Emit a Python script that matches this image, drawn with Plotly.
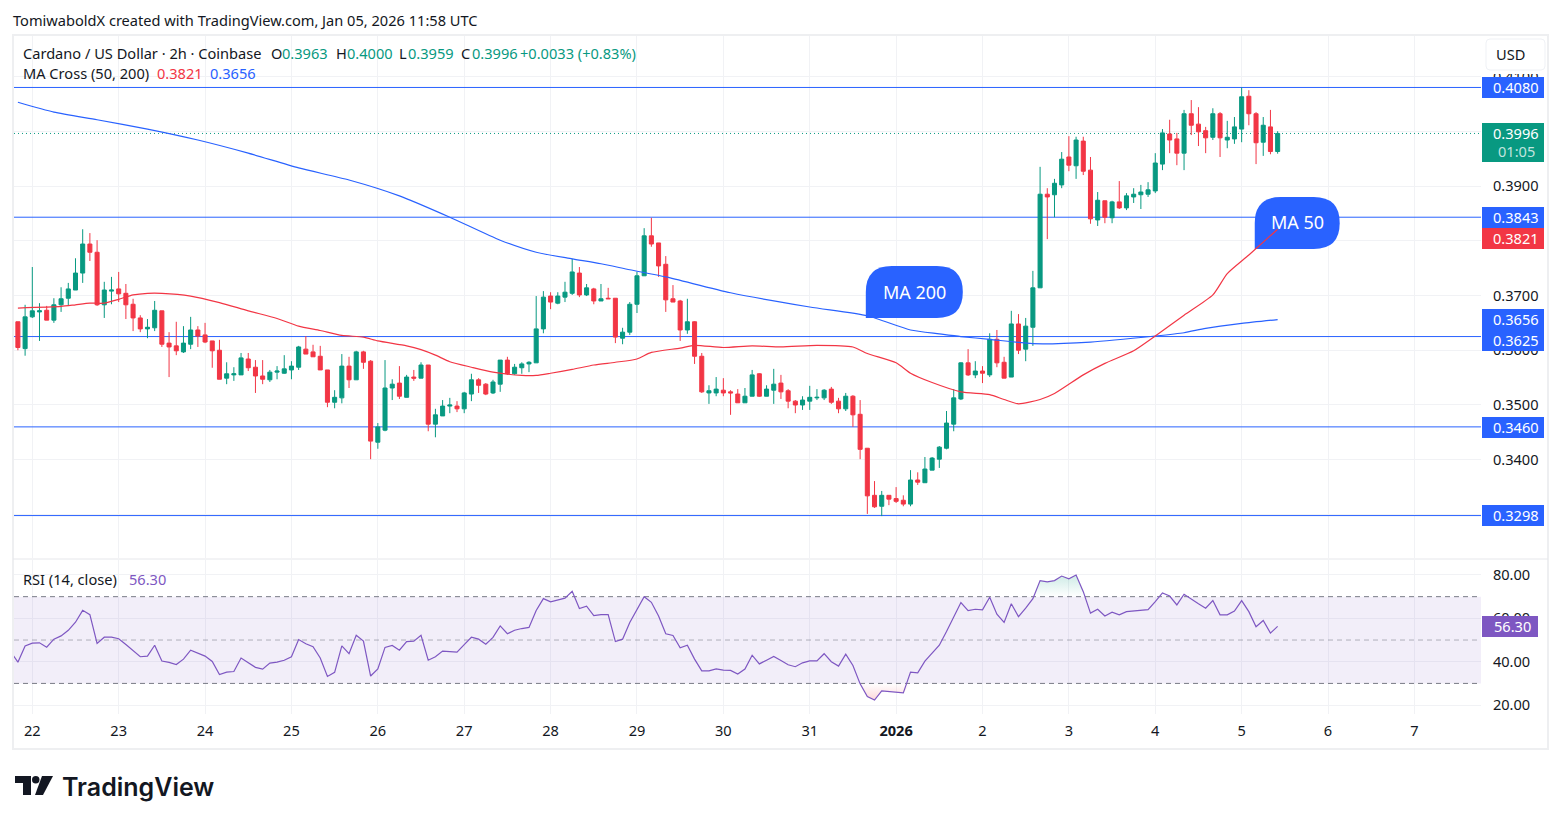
import numpy as np
import pandas as pd
import plotly.graph_objects as go
from plotly.subplots import make_subplots

W, H = 1561, 824
GREEN = '#089981'
RED = '#F23645'
BLUE = '#2962FF'
PURPLE = '#7E57C2'
TEXT = '#131722'
GRID = '#F1F2F5'
FONT = 'Noto Sans'
FS = 14.6
X_START = '2025-12-21 18:55'
X_END = '2026-01-07 18:30'

# 2h candles
opens = [.3652,.3603,.3661,.3670,.3673,.3655,.3683,.3695,.3710,.3741,
         .3794,.3779,.3683,.3708,.3712,.3704,.3684,.3659,.3639,.3641,
         .3672,.3613,.3608,.3597,.3611,.3637,.3628,.3617,.3600,.3549,
         .3555,.3555,.3584,.3569,.3553,.3546,.3560,.3558,.3564,.3569,
         .3602,.3597,.3589,.3564,.3505,.3513,.3571,.3546,.3597,.3580,
         .3432,.3454,.3531,.3540,.3514,.3551,.3549,.3573,.3465,.3480,
         .3498,.3498,.3493,.3520,.3546,.3538,.3522,.3538,.3582,.3557,
         .3568,.3575,.3577,.3639,.3699,.3686,.3697,.3704,.3741,.3701,
         .3712,.3690,.3695,.3695,.3622,.3633,.3684,.3736,.3809,.3796,
         .3757,.3694,.3690,.3637,.3652,.3589,.3522,.3522,.3527,.3524,
         .3520,.3504,.3516,.3557,.3516,.3527,.3540,.3526,.3507,.3500,
         .3507,.3513,.3513,.3529,.3507,.3493,.3516,.3483,.3421,.3335,
         .3315,.3335,.3329,.3326,.3319,.3363,.3358,.3381,.3401,.3421,
         .3465,.3511,.3577,.3555,.3562,.3555,.3620,.3578,.3551,.3648,
         .3602,.3642,.3714,.3885,.3884,.3902,.3953,.3937,.3982,.3929,
         .3838,.3873,.3842,.3871,.3860,.3880,.3884,.3885,.3891,.3940,
         .3995,.3986,.3960,.4032,.4013,.4001,.3989,.4032,.3984,.3986,
         .4004,.4064,.4032,.3980,.4008,.3963]
highs = [.3652,.3683,.3752,.3686,.3681,.3695,.3715,.3723,.3768,.3821,
         .3814,.3801,.3725,.3734,.3743,.3721,.3694,.3664,.3657,.3690,
         .3672,.3633,.3652,.3644,.3661,.3644,.3650,.3617,.3619,.3578,
         .3569,.3595,.3595,.3582,.3582,.3564,.3571,.3591,.3580,.3608,
         .3626,.3610,.3608,.3564,.3527,.3593,.3588,.3599,.3599,.3582,
         .3467,.3582,.3547,.3571,.3555,.3564,.3578,.3573,.3493,.3509,
         .3513,.3507,.3524,.3557,.3549,.3540,.3546,.3582,.3588,.3575,
         .3578,.3580,.3699,.3708,.3706,.3706,.3725,.3767,.3752,.3721,
         .3714,.3721,.3714,.3695,.3641,.3688,.3743,.3823,.3842,.3796,
         .3772,.3719,.3692,.3694,.3653,.3595,.3536,.3551,.3549,.3527,
         .3529,.3531,.3564,.3558,.3536,.3566,.3555,.3529,.3509,.3516,
         .3535,.3529,.3529,.3533,.3513,.3522,.3518,.3509,.3421,.3361,
         .3343,.3335,.3350,.3335,.3381,.3377,.3405,.3405,.3425,.3489,
         .3529,.3578,.3602,.3580,.3571,.3631,.3637,.3588,.3672,.3666,
         .3659,.3745,.3935,.3896,.3913,.3962,.3991,.3990,.3990,.3953,
         .3889,.3873,.3873,.3909,.3887,.3896,.3902,.3907,.3960,.4004,
         .4021,.3997,.4039,.4057,.4044,.4008,.4042,.4035,.4019,.4026,
         .4080,.4075,.4035,.4026,.4039,.4000]
lows = [.3600,.3590,.3659,.3617,.3655,.3650,.3670,.3681,.3710,.3723,
        .3763,.3681,.3659,.3684,.3688,.3657,.3635,.3633,.3622,.3635,
        .3606,.3551,.3591,.3595,.3602,.3606,.3613,.3568,.3547,.3538,
        .3544,.3555,.3562,.3522,.3538,.3542,.3547,.3557,.3547,.3564,
        .3593,.3588,.3564,.3496,.3494,.3503,.3531,.3546,.3566,.3401,
        .3420,.3452,.3509,.3511,.3514,.3544,.3549,.3452,.3441,.3480,
        .3485,.3487,.3485,.3507,.3522,.3518,.3520,.3524,.3555,.3555,
        .3557,.3560,.3577,.3631,.3675,.3684,.3688,.3701,.3697,.3699,
        .3684,.3690,.3694,.3613,.3611,.3628,.3668,.3736,.3789,.3734,
        .3670,.3688,.3617,.3630,.3575,.3522,.3502,.3516,.3516,.3482,
        .3504,.3504,.3516,.3515,.3516,.3502,.3511,.3494,.3485,.3491,
        .3491,.3509,.3509,.3502,.3485,.3489,.3460,.3401,.3301,.3312,
        .3297,.3317,.3321,.3315,.3315,.3354,.3358,.3381,.3385,.3419,
        .3452,.3509,.3553,.3549,.3540,.3551,.3569,.3549,.3551,.3593,
        .3580,.3608,.3714,.3803,.3843,.3896,.3927,.3913,.3920,.3831,
        .3827,.3832,.3832,.3858,.3856,.3869,.3858,.3880,.3887,.3929,
        .3960,.3938,.3929,.3993,.3973,.3960,.3984,.3953,.3969,.3977,
        .3980,.4011,.3940,.3955,.3958,.3959]
closes = [.3605,.3661,.3672,.3672,.3655,.3683,.3694,.3712,.3741,.3794,
          .3779,.3683,.3710,.3710,.3703,.3683,.3659,.3639,.3642,.3673,
          .3611,.3606,.3599,.3613,.3637,.3626,.3615,.3599,.3547,.3557,
          .3557,.3586,.3568,.3553,.3547,.3560,.3562,.3566,.3571,.3606,
          .3593,.3588,.3564,.3505,.3514,.3571,.3546,.3597,.3578,.3434,
          .3460,.3531,.3538,.3516,.3551,.3549,.3573,.3465,.3482,.3498,
          .3500,.3493,.3522,.3546,.3536,.3520,.3542,.3582,.3557,.3569,
          .3575,.3578,.3639,.3697,.3688,.3699,.3706,.3743,.3701,.3714,
          .3690,.3694,.3694,.3624,.3633,.3684,.3736,.3809,.3794,.3754,
          .3692,.3688,.3637,.3652,.3589,.3524,.3526,.3529,.3522,.3522,
          .3504,.3516,.3555,.3516,.3529,.3538,.3524,.3507,.3500,.3509,
          .3514,.3514,.3527,.3505,.3493,.3516,.3482,.3419,.3334,.3314,
          .3335,.3328,.3324,.3319,.3363,.3359,.3383,.3403,.3423,.3467,
          .3513,.3577,.3555,.3562,.3558,.3620,.3577,.3549,.3648,.3600,
          .3644,.3714,.3885,.3880,.3905,.3949,.3938,.3984,.3927,.3840,
          .3874,.3843,.3871,.3860,.3882,.3885,.3889,.3893,.3942,.3997,
          .3984,.3960,.4032,.4011,.3999,.3988,.4032,.3988,.3989,.4008,
          .4063,.4032,.3979,.4011,.3963,.3996]

# moving averages, read at bar numbers (bar 0 = Dec 21 20:00)
ma50_bars = [0,6,8,10,12,14,16,18,20,24,28,32,36,39,42,45,48,50,54,56,58,60,63,66,70,72,74,
             77,80,83,86,88,92,94,98,102,106,111,116,118,122,124,127,131,135,137,139,142,
             144,148,151,155,158,162,166,168,171,175]
ma50_vals = [.3677,.3680,.3683,.3686,.3686,.3693,.3701,.3704,.3704,.3699,.3687,.3672,.3658,
             .3644,.3636,.3627,.3624,.3617,.3608,.3601,.3591,.3579,.3569,.3560,.3554,.3554,
             .3558,.3565,.3573,.3578,.3584,.3596,.3604,.3609,.3605,.3608,.3606,.3609,.3606,
             .3594,.3577,.3558,.3541,.3524,.3519,.3510,.3502,.3510,.3521,.3555,.3576,.3599,
             .3626,.3664,.3701,.3740,.3774,.3821]
ma200_bars = [0,5,11,18,25,32,39,46,53,60,67,72,77,81,85,90,99,110,118,124,128,131,135,141,
              149,158,162,165,170,175]
ma200_vals = [.4053,.4035,.4021,.4004,.3984,.3960,.3933,.3911,.3882,.3843,.3801,.3779,.3767,
              .3758,.3747,.3734,.3705,.3679,.3663,.3637,.3630,.3625,.3620,.3612,.3615,.3626,
              .3632,.3640,.3649,.3656]

# one bar more than the candles: the line starts left of the first visible candle
rsi_vals = [44.6,39.8,47.3,48.6,48.7,46.7,50.4,51.9,54.5,58.2,63.7,61.7,48.4,51.3,51.3,50.6,47.9,
            45.2,42.3,42.6,47.6,40.3,39.7,38.7,41.2,45.3,44.1,42.6,40.1,34.1,35.2,35.5,41.7,39.4,
            37.4,36.6,39.4,39.8,40.7,42.3,50.2,48.3,46.9,41.7,33.2,35.1,47.3,43.7,52.2,49.5,33.4,
            36.7,46.6,47.5,45.3,49.3,49.5,52.2,40.7,42.3,44.9,44.7,44.4,47.9,51.3,50.4,48.1,51.2,
            56.5,52.9,54.5,55.3,55.8,63.6,69.1,67.6,68.5,69.3,72.5,64.5,65.6,61.3,61.7,61.7,49.3,
            50.4,58.1,63.9,70.0,67.4,61.1,52.9,52.1,46.4,47.6,41.2,35.8,35.8,36.7,36.1,36.0,34.3,
            36.6,43.0,39.0,40.7,42.4,40.6,38.6,37.7,39.5,40.4,40.4,43.7,40.0,38.0,43.5,38.3,29.8,
            23.9,22.3,26.6,26.3,26.0,25.6,35.2,34.9,40.3,44.0,47.6,53.9,60.8,67.3,63.6,64.2,63.9,
            69.7,61.9,58.1,66.7,60.8,64.7,69.1,77.4,76.8,77.4,79.5,78.2,80.0,72.3,62.4,64.2,61.1,
            62.8,61.6,63.1,63.4,63.7,64.0,67.7,71.7,70.3,66.2,71.1,68.8,66.7,64.7,68.2,61.6,61.6,
            63.4,68.2,63.1,56.1,59.0,53.2,56.3]

level_prices = [0.4080, 0.3843, 0.3625, 0.3460, 0.3298]
last_price = 0.3996

price_ticks = [0.33, 0.34, 0.35, 0.36, 0.37, 0.38, 0.39, 0.40, 0.41]
rsi_ticks = [20, 40, 60, 80]
day_ticks = ['2025-12-22', '2025-12-23', '2025-12-24', '2025-12-25', '2025-12-26', '2025-12-27',
             '2025-12-28', '2025-12-29', '2025-12-30', '2025-12-31', '2026-01-01', '2026-01-02',
             '2026-01-03', '2026-01-04', '2026-01-05', '2026-01-06', '2026-01-07']
day_labels = ['22', '23', '24', '25', '26', '27', '28', '29', '30', '31', '<b>2026</b>',
              '2', '3', '4', '5', '6', '7']

dates = pd.date_range('2025-12-21 20:00', periods=len(opens), freq='2h')
rsi_dates = pd.date_range('2025-12-21 18:00', periods=len(rsi_vals), freq='2h')
rsi_arr = np.array(rsi_vals)


def px(x):
    return x / W


def py(y):
    return 1 - y / H


fig = make_subplots(rows=2, cols=1, shared_xaxes=True, vertical_spacing=0.01)

fig.add_trace(go.Scatter(x=dates[ma200_bars], y=ma200_vals, mode='lines',
                         line=dict(color=BLUE, width=1.2, shape='spline', smoothing=0.6)), row=1, col=1)
fig.add_trace(go.Scatter(x=dates[ma50_bars], y=ma50_vals, mode='lines',
                         line=dict(color=RED, width=1.2, shape='spline', smoothing=0.6)), row=1, col=1)
fig.add_trace(go.Candlestick(x=dates, open=opens, high=highs, low=lows, close=closes,
                             whiskerwidth=0,
                             increasing=dict(line=dict(color=GREEN, width=1), fillcolor=GREEN),
                             decreasing=dict(line=dict(color=RED, width=1), fillcolor=RED)),
              row=1, col=1)

# RSI pane: soft fill beyond the 70 / 30 bands, then the line itself
for level, edge, grad in [(70, np.maximum(rsi_arr, 70),
                           [[0, 'rgba(8,153,129,0)'], [1, 'rgba(8,153,129,0.2)']]),
                          (30, np.minimum(rsi_arr, 30),
                           [[0, 'rgba(242,54,69,0.2)'], [1, 'rgba(242,54,69,0)']])]:
    fig.add_trace(go.Scatter(x=rsi_dates, y=[level] * len(rsi_dates), mode='lines',
                             line=dict(width=0)), row=2, col=1)
    fig.add_trace(go.Scatter(x=rsi_dates, y=edge, mode='lines', line=dict(width=0), fill='tonexty',
                             fillgradient=dict(type='vertical', colorscale=grad)), row=2, col=1)
fig.add_trace(go.Scatter(x=rsi_dates, y=rsi_vals, mode='lines',
                         line=dict(color=PURPLE, width=1.2)), row=2, col=1)

shapes = []
# levels and bubbles sit over the grid but under the candles and moving averages
for p in level_prices:
    shapes.append(dict(type='line', xref='x', yref='y', x0=X_START, x1=X_END, y0=p, y1=p,
                       line=dict(color=BLUE, width=1), layer='between'))
shapes.append(dict(type='line', xref='x', yref='y', x0=X_START, x1=X_END, y0=last_price, y1=last_price,
                   line=dict(color=GREEN, width=1, dash='1px 3px'), layer='between'))


def bubble(x0, y0, x1, y1, r=26):
    # px box rounded except the lower left corner, placed through the price pane's axes
    def dx(x):
        t = pd.Timestamp('2025-12-22') + pd.Timedelta(hours=(x - 32.3) / 7.2 * 2)
        return t.strftime('%Y-%m-%d_%H:%M:%S')

    def dy(y):
        return 0.39 + (186 - y) / 5475

    path = (f'M {dx(x0)} {dy(y1)} L {dx(x0)} {dy(y0 + r)} Q {dx(x0)} {dy(y0)} {dx(x0 + r)} {dy(y0)} '
            f'L {dx(x1 - r)} {dy(y0)} Q {dx(x1)} {dy(y0)} {dx(x1)} {dy(y0 + r)} '
            f'Q {dx(x1)} {dy(y1)} {dx(x1 - r)} {dy(y1)} Z')
    return dict(type='path', xref='x', yref='y', path=path, fillcolor=BLUE,
                line=dict(width=0), layer='between')


shapes.append(bubble(866, 266, 963, 318))
shapes.append(bubble(1255, 197, 1340, 249))

# RSI band and its dashed levels
shapes.append(dict(type='rect', xref='x2', yref='y2', x0=X_START, x1=X_END, y0=30, y1=70,
                   fillcolor='rgba(126,87,194,0.1)', line=dict(width=0), layer='between'))
for level, col in [(70, '#787B86'), (50, 'rgba(120,123,134,0.55)'), (30, '#787B86')]:
    shapes.append(dict(type='line', xref='x2', yref='y2', x0=X_START, x1=X_END, y0=level, y1=level,
                       line=dict(color=col, width=1, dash='5px 4px'), layer='between'))


def rect(x0, y0, x1, y1, fill, line=None):
    return dict(type='rect', xref='paper', yref='paper', x0=px(x0), x1=px(x1), y0=py(y1), y1=py(y0),
                fillcolor=fill, line=line or dict(width=0))


# chart frame and pane divider
shapes.append(rect(13, 35, 1548, 749, 'rgba(0,0,0,0)', dict(color='#EEEFF1', width=2)))
shapes.append(dict(type='line', xref='paper', yref='paper', x0=px(13), x1=px(1548), y0=py(559), y1=py(559),
                   line=dict(color='#E6E7EB', width=1)))

# axis price tags
tags = [('0.4080', 87.5, BLUE), ('0.3843', 217.5, BLUE), ('0.3821', 238.5, RED),
        ('0.3656', 319.5, BLUE), ('0.3625', 340.5, BLUE), ('0.3460', 427.5, BLUE),
        ('0.3298', 515.5, BLUE)]
# only the tips of the 0.4100 label show above the first tag
shapes.append(rect(1483, 66, 1545, 74, 'white'))
for _, yc, col in tags:
    shapes.append(rect(1482, yc - 10.5, 1544, yc + 10.5, col))
shapes.append(rect(1482, 123, 1544, 162, GREEN))
shapes.append(rect(1482, 616, 1538, 637, PURPLE))

# USD button
shapes.append(dict(type='path', xref='paper', yref='paper', line=dict(color='#EFF1F5', width=1),
                   fillcolor='white',
                   path=f'M {px(1490)} {py(39)} L {px(1541)} {py(39)} Q {px(1545)} {py(39)} {px(1545)} {py(43)} '
                        f'L {px(1545)} {py(66)} Q {px(1545)} {py(70)} {px(1541)} {py(70)} '
                        f'L {px(1490)} {py(70)} Q {px(1486)} {py(70)} {px(1486)} {py(66)} '
                        f'L {px(1486)} {py(43)} Q {px(1486)} {py(39)} {px(1490)} {py(39)} Z'))

# TradingView mark
logo_paths = [[(15, 776), (31, 776), (31, 795), (23, 795), (23, 783), (15, 783)],
              [(42, 776), (53, 776), (43, 795), (35, 795)]]
for pts in logo_paths:
    d = 'M ' + ' L '.join(f'{px(a)} {py(b)}' for a, b in pts) + ' Z'
    shapes.append(dict(type='path', xref='paper', yref='paper', path=d, fillcolor=TEXT, line=dict(width=0)))
shapes.append(dict(type='circle', xref='paper', yref='paper', x0=px(32), x1=px(39.5), y0=py(783.5), y1=py(776),
                   fillcolor=TEXT, line=dict(width=0)))

notes = []


def label(x, y, text, color=TEXT, size=FS, anchor='left', weight=None):
    font = dict(family=FONT, size=size, color=color)
    if weight:
        font['weight'] = weight
    notes.append(dict(xref='paper', yref='paper', x=px(x), y=py(y), text=text, showarrow=False,
                      xanchor=anchor, yanchor='middle', font=font, borderpad=0))


label(12, 19.5, 'TomiwaboldX created with TradingView.com, Jan 05, 2026 11:58 UTC')
label(22, 53, 'Cardano / US Dollar · 2h · Coinbase')
for x, head, val in [(270, 'O', '0.3963'), (335, 'H', '0.4000'), (398, 'L', '0.3959'), (460, 'C', '0.3996')]:
    label(x, 53, head)
    label(x + 11 if head != 'L' else x + 9, 53, val, GREEN)
label(519, 53, '+0.0033 (+0.83%)', GREEN)
label(22, 73.5, 'MA Cross (50, 200)')
label(156, 73.5, '0.3821', RED)
label(209, 73.5, '0.3656', BLUE)
label(22, 578.5, 'RSI (14, close)')
label(128, 578.5, '56.30', PURPLE)
label(1510, 54, 'USD', anchor='center')
for text, yc, _ in tags:
    label(1516, yc - 0.7, text, 'white', anchor='center')
label(1516, 132.8, '0.3996', 'white', anchor='center')
label(1516, 150.8, '01:05', 'rgba(255,255,255,0.75)', anchor='center')
label(1512, 626.3, '56.30', 'white', anchor='center')
label(914, 291.5, 'MA 200', 'white', size=18, anchor='center')
label(1297, 222.5, 'MA 50', 'white', size=18, anchor='center')
label(61, 787, 'TradingView', TEXT, size=25, weight=600)
notes[-1]['font']['family'] = 'Inter'

fig.update_layout(
    width=W, height=H, autosize=False,
    margin=dict(l=0, r=0, t=0, b=0),
    paper_bgcolor='white', plot_bgcolor='white',
    showlegend=False, hovermode=False, boxgap=0.2,
    shapes=shapes, annotations=notes,
    font=dict(family=FONT, size=FS, color=TEXT),
    xaxis=dict(domain=[px(14), px(1481)], range=[X_START, X_END],
               tickvals=day_ticks, ticktext=day_labels, showticklabels=False,
               showgrid=True, gridcolor=GRID, gridwidth=1, zeroline=False, showline=False,
               rangeslider=dict(visible=False), ticks=''),
    xaxis2=dict(domain=[px(14), px(1481)], range=[X_START, X_END],
                tickvals=day_ticks, ticktext=day_labels, showticklabels=True, tickangle=0,
                showgrid=True, gridcolor=GRID, gridwidth=1, zeroline=False, showline=False,
                ticks='outside', ticklen=3, tickcolor='rgba(0,0,0,0)', tickfont=dict(size=FS, color=TEXT)),
    yaxis=dict(domain=[py(558), py(36)], range=[0.32205, 0.41740], side='right',
               tickvals=price_ticks, tickformat='.4f', showgrid=True, gridcolor=GRID, gridwidth=1,
               zeroline=False, showline=False, ticks='outside', ticklen=8,
               tickcolor='rgba(0,0,0,0)', tickfont=dict(size=FS, color=TEXT)),
    yaxis2=dict(domain=[py(714), py(560)], range=[15.9, 86.9], side='right',
                tickvals=rsi_ticks, tickformat='.2f', showgrid=True, gridcolor=GRID, gridwidth=1,
                zeroline=False, showline=False, ticks='outside', ticklen=8,
                tickcolor='rgba(0,0,0,0)', tickfont=dict(size=FS, color=TEXT)),
)

fig.write_html("out.html", config={'displayModeBar': False},
               post_script="document.body.style.margin='0';")
